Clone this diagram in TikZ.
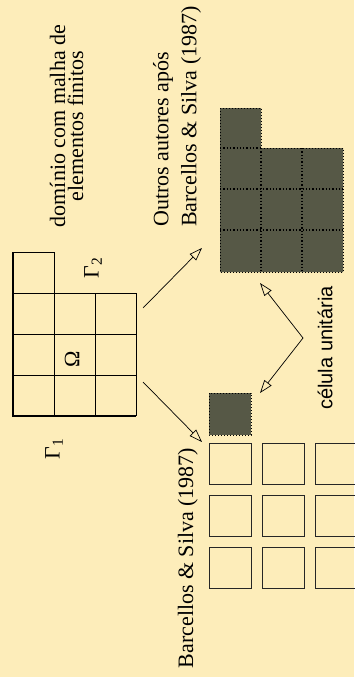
\documentclass[tikz,border=0pt]{standalone}
\usepackage{fontspec}
\setmainfont{Liberation Serif}
\newfontfamily\helvfont{Liberation Sans}
\usetikzlibrary{arrows.meta}
\definecolor{papel}{RGB}{253,237,186}
\definecolor{escuro}{RGB}{86,88,70}
\tikzset{
  seta/.style={-{Triangle[open,length=13pt,width=9pt]}, line width=0.7pt},
  rotulo/.style={rotate=90, font=\fontsize{22}{18}\selectfont, align=center, inner sep=0pt},
  celulabox/.style={line width=1pt, draw=black!85}
}
\begin{document}
\begin{tikzpicture}[x=1pt,y=-1pt]
\fill[papel] (0,0) rectangle (354,677);
\useasboundingbox (0,0) rectangle (354,677);

% dominio com malha
\foreach \i in {0,1,2,3} {
  \draw[line width=0.9pt] (13+41*\i,293) -- (13+41*\i,416);
  \draw[line width=0.9pt] (13,293+41*\i) -- (136,293+41*\i);
}
\draw[line width=0.9pt] (13,252) rectangle (54,293);
\draw[line width=2.6pt] (13,252) -- (13,416) -- (136,416);
\node[rotulo] (omega) at (72,359) {Ω};
\node[rotulo] (gama2) at (93,268) {Γ\textsubscript{2}};
\node[rotulo] (gama1) at (54,449) {Γ\textsubscript{1}};
\node[rotulo] (dominio) at (66.5,126) {domínio com malha de\\elementos finitos};

% outros autores
\fill[escuro] (220,108) -- (261,108) -- (261,148) -- (343,148) -- (343,272) -- (220,272) -- cycle;
\draw[dotted, line width=1pt] (220,108) -- (261,108) -- (261,148) -- (343,148) -- (343,272) -- (220,272) -- cycle;
\draw[dotted, line width=1.3pt] (261,148) -- (261,272) (302,148) -- (302,272)
  (220,148) -- (261,148) (220,189) -- (343,189) (220,230) -- (343,230);
\node[rotulo, font=\fontsize{22}{28}\selectfont, align=left, anchor=west] (outros) at (177,227)
  {Outros autores após\\Barcellos \& Silva (1987)};

% Barcellos & Silva
\fill[escuro] (209,393) rectangle (251,435);
\draw[dotted, line width=1pt] (209,393) rectangle (251,435);
\foreach \c in {0,1,2} {
  \foreach \r in {0,1,2} {
    \draw[celulabox] (209+53*\c,443+52*\r) rectangle ++(42,41);
  }
}
\node[rotulo, anchor=base] (barcellos) at (193,558) {Barcellos \& Silva (1987)};
\node[rotate=90, font=\helvfont\fontsize{20}{24}\selectfont] (celula) at (325,348) {célula unitária};

% setas
\coordinate (d1) at (143,308);
\coordinate (d2) at (143,382);
\coordinate (o) at (202,248);
\coordinate (b) at (202,442);
\coordinate (v) at (303,338);
\coordinate (u1) at (260,283);
\coordinate (u2) at (260,393);
\draw[seta] (d1) -- (o);
\draw[seta] (d2) -- (b);
\draw[seta] (v) -- (u1);
\draw[seta] (v) -- (u2);
\end{tikzpicture}
\end{document}
